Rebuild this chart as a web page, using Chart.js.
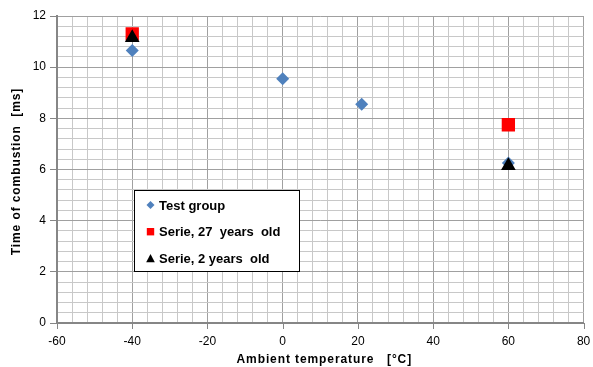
<!DOCTYPE html>
<html>
<head>
<meta charset="utf-8">
<script src="https://cdn.jsdelivr.net/npm/chart.js@4.4.1/dist/chart.umd.min.js"></script>
<style>
  html, body { margin: 0; padding: 0; background: #fff; }
</style>
</head>
<body>
<canvas id="chart" width="593" height="367"></canvas>
<script>
/* =====================
   DATA
===================== */
const seriesNames = ["Test group", "Serie, 27  years  old", "Serie, 2 years  old"];

const testGroupTemp = [-40, 0, 21, 60];
const testGroupTime = [10.65, 9.55, 8.55, 6.25];

const serie27Temp = [-40, 60];
const serie27Time = [11.3, 7.75];

const serie2Temp = [-40, 60];
const serie2Time = [11.15, 6.15];

const xTicks = [-60, -40, -20, 0, 20, 40, 60, 80];
const yTicks = [0, 2, 4, 6, 8, 10, 12];

const xTitle = "Ambient temperature   [°C]";
const yTitle = "Time of combustion  [ms]";

const FONT = "'Liberation Sans', Arial, sans-serif";

const pts = (xs, ys) => xs.map((x, i) => ({ x, y: ys[i] }));

/* =====================
   LEGEND + AXIS TITLES
   (drawn by hand: boxed legend sits inside the plot,
    titles need a bit of letter spacing)
===================== */
function drawMarker(ctx, style, color, cx, cy) {
  ctx.fillStyle = color;
  ctx.beginPath();
  if (style === "rectRot") {
    ctx.moveTo(cx, cy - 4);
    ctx.lineTo(cx + 4, cy);
    ctx.lineTo(cx, cy + 4);
    ctx.lineTo(cx - 4, cy);
  } else if (style === "rect") {
    ctx.rect(cx - 3.7, cy - 3.7, 7.4, 7.4);
  } else {
    ctx.moveTo(cx, cy - 4.5);
    ctx.lineTo(cx + 4.3, cy + 3.8);
    ctx.lineTo(cx - 4.3, cy + 3.8);
  }
  ctx.closePath();
  ctx.fill();
}

const extras = {
  id: "extras",
  afterDraw(chart) {
    const { ctx, chartArea } = chart;
    const sx = chart.scales.x;

    // short tick marks under the x axis (major values only)
    ctx.save();
    ctx.strokeStyle = "#868686";
    ctx.lineWidth = 1;
    ctx.beginPath();
    xTicks.forEach(v => {
      const px = Math.round(sx.getPixelForValue(v)) + 0.5;
      ctx.moveTo(px, chartArea.bottom);
      ctx.lineTo(px, chartArea.bottom + 6);
    });
    ctx.stroke();
    ctx.restore();

    // axis titles
    ctx.save();
    ctx.fillStyle = "#000";
    ctx.font = "bold 12px " + FONT;
    ctx.letterSpacing = "0.9px";
    ctx.textAlign = "center";
    ctx.textBaseline = "alphabetic";
    ctx.fillText(xTitle, (chartArea.left + chartArea.right) / 2 + 4, chartArea.bottom + 40);
    ctx.translate(20, (chartArea.top + chartArea.bottom) / 2 + 2);
    ctx.rotate(-Math.PI / 2);
    ctx.fillText(yTitle, 0, 0);
    ctx.restore();

    // legend box
    const x = chartArea.left + 77;
    const y = chartArea.top + 174;
    const w = 165, h = 81;

    ctx.save();
    ctx.fillStyle = "#fff";
    ctx.fillRect(x, y, w, h);
    ctx.strokeStyle = "#000";
    ctx.lineWidth = 1;
    ctx.strokeRect(x + 0.5, y + 0.5, w, h);

    ctx.font = "bold 13px " + FONT;
    ctx.textBaseline = "alphabetic";
    ctx.textAlign = "left";
    chart.data.datasets.forEach((ds, i) => {
      const rowY = y + 15 + i * 26.7;
      drawMarker(ctx, ds.pointStyle, ds.backgroundColor, x + 16.5, rowY);
      ctx.fillStyle = "#000";
      ctx.fillText(ds.label, x + 25, rowY + 4.7);
    });
    ctx.restore();
  }
};

/* =====================
   CHART
===================== */
const isMajor = (list, v) => list.some(t => Math.abs(t - v) < 1e-6);

new Chart(document.getElementById("chart"), {
  type: "scatter",
  data: {
    datasets: [
      {
        label: seriesNames[0],
        data: pts(testGroupTemp, testGroupTime),
        pointStyle: "rectRot",
        backgroundColor: "#4f81bd",
        borderWidth: 0,
        pointRadius: 6.5,
        order: 2
      },
      {
        label: seriesNames[1],
        data: pts(serie27Temp, serie27Time),
        pointStyle: "rect",
        backgroundColor: "#ff0000",
        borderWidth: 0,
        pointRadius: 9.4,
        order: 1
      },
      {
        label: seriesNames[2],
        data: pts(serie2Temp, serie2Time),
        pointStyle: "triangle",
        backgroundColor: "#000000",
        borderWidth: 0,
        pointRadius: 8.5,
        order: 0
      }
    ]
  },
  options: {
    responsive: false,
    animation: false,
    events: [],
    layout: { padding: { top: 16, right: 4, left: 0, bottom: 0 } },
    plugins: {
      legend: { display: false },
      tooltip: { enabled: false }
    },
    scales: {
      x: {
        type: "linear",
        min: -60,
        max: 80,
        ticks: {
          stepSize: 4,
          autoSkip: false,
          maxRotation: 0,
          padding: 0,
          color: "#000",
          font: { family: FONT, size: 12 },
          callback: v => (isMajor(xTicks, v) ? String(v) : "")
        },
        grid: {
          lineWidth: 1,
          tickLength: 11,
          color: c => (isMajor(xTicks, c.tick.value) ? "#a0a0a0" : "#c8c8c8"),
          tickColor: "rgba(0,0,0,0)"
        },
        border: { color: "#868686", width: 2 },
        afterFit: s => {
          s.height = 44;
        }
      },
      y: {
        type: "linear",
        min: 0,
        max: 12,
        ticks: {
          stepSize: 0.4,
          autoSkip: false,
          padding: 4,
          color: "#000",
          font: { family: FONT, size: 12 },
          callback: v => (isMajor(yTicks, v) ? String(v) : "")
        },
        grid: {
          lineWidth: 1,
          tickLength: 7,
          color: c => (isMajor(yTicks, c.tick.value) ? "#a0a0a0" : "#c8c8c8"),
          tickColor: c => (isMajor(yTicks, c.tick.value) ? "#868686" : "rgba(0,0,0,0)")
        },
        border: { color: "#868686", width: 2 },
        afterFit: s => {
          s.width = 57;
        }
      }
    }
  },
  plugins: [extras]
});
</script>
</body>
</html>
